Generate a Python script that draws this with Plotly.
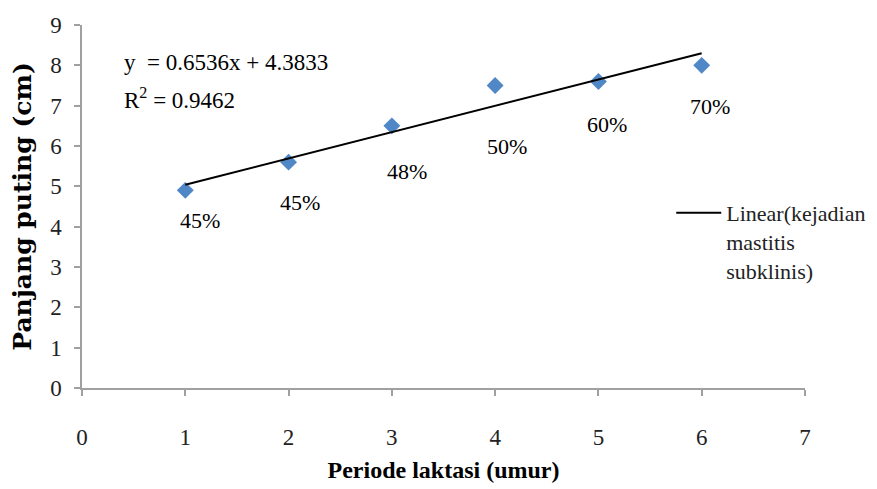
import plotly.graph_objects as go

# ---- data ----
periode = [1, 2, 3, 4, 5, 6]
panjang_puting = [4.9, 5.6, 6.5, 7.5, 7.6, 8.0]
persen_labels = ["45%", "45%", "48%", "50%", "60%", "70%"]

trend_x = [1, 6]
trend_y = [5.04, 8.30]          # y = 0.6536x + 4.3833 at x = 1 and x = 6
equation_text = "y  = 0.6536x + 4.3833"
r2_text = "R<sup>2</sup> = 0.9462"
legend_name = "Linear(kejadian<br>mastitis<br>subklinis)"

x_ticks = [0, 1, 2, 3, 4, 5, 6, 7]
y_ticks = [0, 1, 2, 3, 4, 5, 6, 7, 8, 9]

# ---- styling (pixel offsets of the percentage labels from their points) ----
label_offsets = [(15, -30), (11, -40), (15, -46), (12, -61), (9, -43), (8, -41)]

SERIF = "Liberation Serif, Times New Roman, serif"
AXIS_COL = "#A0A0A0"

fig = go.Figure()

fig.add_trace(go.Scatter(
    x=periode, y=panjang_puting, mode="markers",
    marker=dict(symbol="diamond", size=13, color="#4F87C7", line=dict(width=0)),
    showlegend=False, name="Panjang puting"))

fig.add_trace(go.Scatter(
    x=trend_x, y=trend_y, mode="lines",
    line=dict(color="black", width=2),
    name=legend_name, showlegend=True))

annotations = []
for xv, yv, lab, (dx, dy) in zip(periode, panjang_puting, persen_labels, label_offsets):
    annotations.append(dict(x=xv, y=yv, xref="x", yref="y", text=lab, showarrow=False,
                            xshift=dx, yshift=dy, font=dict(family=SERIF, size=22, color="black")))

annotations.append(dict(x=0.387, y=8.08, xref="x", yref="y", text=equation_text, showarrow=False,
                        xanchor="left", yanchor="middle",
                        font=dict(family=SERIF, size=23, color="black")))
annotations.append(dict(x=0.387, y=7.19, xref="x", yref="y", text=r2_text, showarrow=False,
                        xanchor="left", yanchor="middle",
                        font=dict(family=SERIF, size=23, color="black")))

# the page body adds an 8px offset, so the figure is sized to the visible area
fig.update_layout(
    width=869, height=481,
    margin=dict(l=74, r=72, t=17, b=101, autoexpand=False),
    paper_bgcolor="white", plot_bgcolor="white",
    annotations=annotations,
    legend=dict(x=0.815, y=0.540, xanchor="left", yanchor="top",
                font=dict(family=SERIF, size=22, color="#222222"),
                bgcolor="rgba(0,0,0,0)", itemwidth=45, valign="top",
                tracegroupgap=0),
    xaxis=dict(range=[0, 7], tickvals=x_ticks, ticktext=[str(v) for v in x_ticks],
               showgrid=False, zeroline=False, showline=True, linecolor=AXIS_COL, linewidth=1.5,
               ticks="outside", ticklen=6, tickcolor=AXIS_COL, tickwidth=1.5,
               ticklabelstandoff=22,
               tickfont=dict(family=SERIF, size=23, color="#222222"),
               title=dict(text="Periode laktasi (umur)", standoff=12,
                          font=dict(family=SERIF, size=24, color="black", weight="bold"))),
    yaxis=dict(range=[0, 9], tickvals=y_ticks, ticktext=[str(v) for v in y_ticks],
               showgrid=False, zeroline=False, showline=True, linecolor=AXIS_COL, linewidth=1.5,
               ticks="outside", ticklen=6, tickcolor=AXIS_COL, tickwidth=1.5,
               ticklabelstandoff=8,
               tickfont=dict(family=SERIF, size=23, color="#222222"),
               title=dict(text="Panjang puting (cm)", standoff=14,
                          font=dict(family="DejaVu Serif, serif", size=25, color="black", weight="bold"))),
)

fig.write_html("out.html")
